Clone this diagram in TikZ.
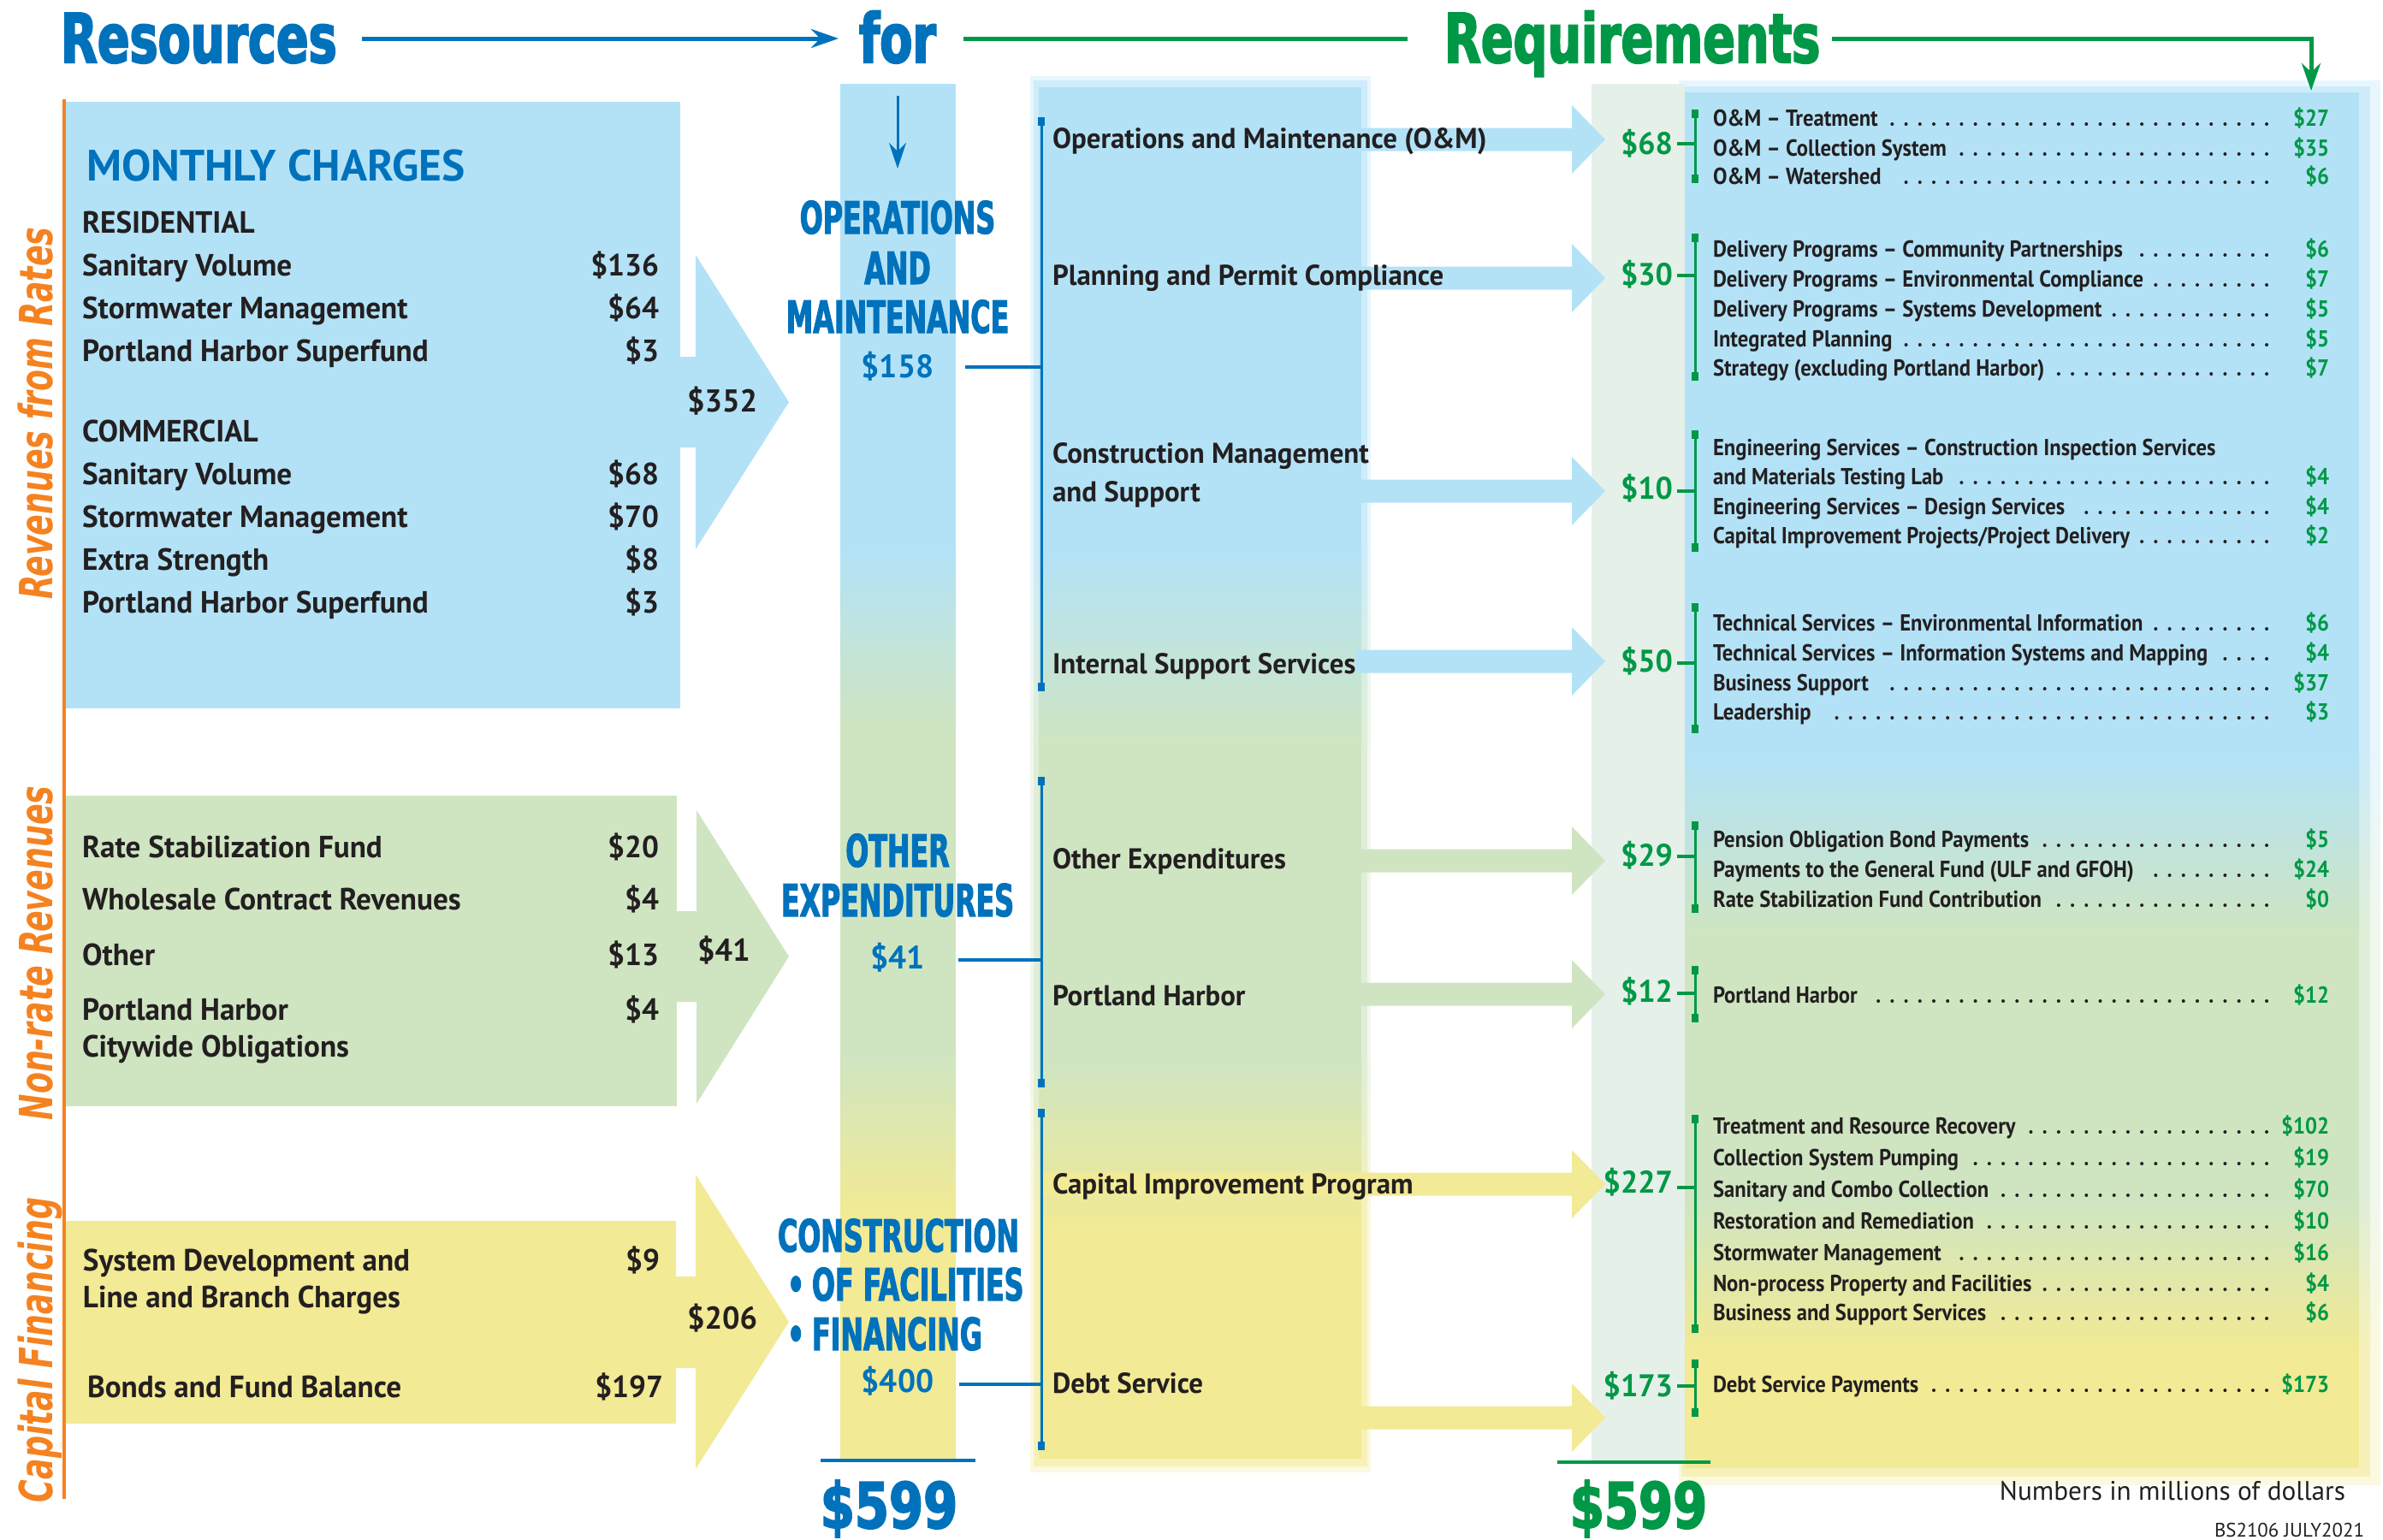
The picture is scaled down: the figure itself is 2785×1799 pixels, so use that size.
\documentclass[tikz,border=0pt]{standalone}
\usepackage{fontspec}
\usetikzlibrary{arrows.meta,calc}
\setmainfont{PT Sans}
\newfontfamily\bodyfont{PT Sans}[FakeStretch=0.98]
\newfontfamily\smallfont{PT Sans}[FakeStretch=0.91]
\newfontfamily\plainfont{PT Sans}
\newfontfamily\titlefont{DejaVu Sans}[FakeStretch=0.70,FakeBold=2.5]
\newfontfamily\capsfont{DejaVu Sans}[FakeStretch=0.61,FakeBold=2]
\newfontfamily\bigfont{DejaVu Sans}[FakeStretch=0.78,FakeBold=2.5]
\newfontfamily\sidefont{DejaVu Sans}[FakeStretch=0.68]
\definecolor{cblue}{RGB}{0,114,188}
\definecolor{cgreen}{RGB}{0,152,70}
\definecolor{corange}{RGB}{245,130,32}
\definecolor{pblue}{RGB}{179,226,247}
\definecolor{pgreen}{RGB}{207,229,194}
\definecolor{pyellow}{RGB}{242,234,148}
\definecolor{pcol}{RGB}{229,240,233}
\definecolor{ink}{RGB}{35,31,32}
\newcommand\gcol[8]{%
  \fill[\cA] (#1,#3) rectangle (#2,#4+1);
  \shade[top color=\cA,bottom color=\cB] (#1,#4) rectangle (#2,#5);
  \fill[\cB] (#1,#5-1) rectangle (#2,#6+1);
  \shade[top color=\cB,bottom color=\cC] (#1,#6) rectangle (#2,#7);
  \fill[\cC] (#1,#7-1) rectangle (#2,#8);}
\newcommand\setcols[1]{\def\cA{pblue!#1}\def\cB{pgreen!#1}\def\cC{pyellow!#1}}
\newcommand\brk[4]{%
  \draw[#4,line width=0.03cm] (#1,#2) -- (#1,#3);
  \fill[#4] (#1-4,#2) rectangle (#1+4,#2+10);
  \fill[#4] (#1-4,#3-10) rectangle (#1+4,#3);}
\newcommand\rarr[3]{%
  \fill[#2] (#3,#1-13.5) -- (1837,#1-13.5) -- (1837,#1-40) -- (1876,#1) -- (1837,#1+40) -- (1837,#1+13.5) -- (#3,#1+13.5) -- cycle;}
\newcommand\gtick[2]{\draw[cgreen,line width=0.04cm] (1960,#2) -- (1981,#2);}
\newcommand\ritem[4]{%
  \node[ritem] (#1) at (2002,#2) {#3};
  \node[rval] (#1v) at (2722,#2) {#4};
  \draw[ink,line width=0.04cm,line cap=round,dash pattern=on 0pt off 0.162cm] (2649,#2-2) -- ($(#1.base east)+(14,-2)$);}
\begin{document}
\begin{tikzpicture}[x=0.01cm,y=-0.01cm,
  every node/.style={inner sep=0pt,outer sep=0pt},
  ttl/.style={font=\titlefont\bfseries\fontsize{22.6}{26}\selectfont,anchor=base west},
  capsl/.style={font=\capsfont\bfseries\fontsize{14.8}{17}\selectfont,text=cblue,anchor=base},
  big/.style={font=\bigfont\bfseries\fontsize{21}{24}\selectfont,anchor=base},
  side/.style={font=\sidefont\bfseries\itshape\fontsize{15.2}{18}\selectfont,text=corange,rotate=90,anchor=base},
  hdr/.style={font=\plainfont\bfseries\fontsize{14.6}{17}\selectfont,text=cblue,anchor=base west},
  item/.style={font=\bodyfont\bfseries\fontsize{10.2}{12}\selectfont,text=ink,anchor=base west},
  val/.style={font=\bodyfont\bfseries\fontsize{10.2}{12}\selectfont,text=ink,anchor=base east},
  mitem/.style={font=\bodyfont\bfseries\fontsize{9.55}{11}\selectfont,text=ink,anchor=base west},
  sumv/.style={font=\bodyfont\bfseries\fontsize{10.5}{12}\selectfont,text=ink,anchor=base west},
  bamt/.style={font=\bodyfont\bfseries\fontsize{10.8}{13}\selectfont,text=cblue,anchor=base},
  ramt/.style={font=\bodyfont\bfseries\fontsize{10.4}{12}\selectfont,text=cgreen,anchor=base east},
  ritem/.style={font=\smallfont\bfseries\fontsize{7.7}{9}\selectfont,text=ink,anchor=base west},
  rval/.style={font=\smallfont\bfseries\fontsize{7.7}{9}\selectfont,text=cgreen,anchor=base east},
  note/.style={font=\plainfont\fontsize{8.9}{10}\selectfont,text=ink,anchor=base east}]
\useasboundingbox (0,0) rectangle (2785,1799);

% right panel
\setcols{30}\gcol{1962}{2782}{94}{880}{1090}{1400}{1580}{1736}
\setcols{65}\gcol{1965}{2770}{101}{880}{1090}{1400}{1580}{1726}
\setcols{100}\gcol{1968}{2757}{108}{880}{1090}{1400}{1580}{1716}
% pale column
\fill[pcol] (1860,98) rectangle (1969,1709);
% middle panel
\setcols{30}\gcol{1204}{1602}{89}{640}{870}{1240}{1440}{1721}
\setcols{65}\gcol{1208}{1598}{94}{640}{870}{1240}{1440}{1714}
\setcols{100}\gcol{1214}{1591}{102}{640}{870}{1240}{1440}{1705}
% bar
\setcols{100}\gcol{982}{1117}{98}{640}{850}{1230}{1420}{1709}

% left boxes
\fill[pblue] (77,119) rectangle (795,828);
\fill[pblue] (795,417) -- (813,417) -- (813,298) -- (922,470) -- (813,642) -- (813,523) -- (795,523) -- cycle;
\fill[pgreen] (77,930) rectangle (791,1293);
\fill[pgreen] (791,1065) -- (814,1065) -- (814,947) -- (922,1118) -- (814,1290) -- (814,1171) -- (791,1171) -- cycle;
\fill[pyellow] (77,1427) rectangle (790,1664);
\fill[pyellow] (790,1492) -- (813,1492) -- (813,1373) -- (922,1545) -- (813,1717) -- (813,1599) -- (790,1599) -- cycle;
\draw[corange,line width=0.045cm] (75,116) -- (75,1752);

% arrows middle -> right
\rarr{163}{pblue}{1585}
\rarr{325}{pblue}{1585}
\rarr{574}{pblue}{1585}
\rarr{773}{pblue}{1585}
\rarr{1006}{pgreen}{1585}
\rarr{1162}{pgreen}{1585}
\rarr{1384}{pyellow}{1215}
\rarr{1657}{pyellow}{1215}

% titles
\node[ttl,text=cblue] (tRes) at (71,73) {Resources};
\node[ttl,text=cblue] (tFor) at (1004,73) {for};
\node[ttl,text=cgreen] (tReq) at (1688,73) {Requirements};
\coordinate (aB1) at (423,45); \coordinate (aB2) at (980,45);
\draw[cblue,line width=0.05cm,-{Stealth[length=0.32cm,width=0.22cm]}] (aB1) -- (aB2);
\coordinate (g1) at (1126,45); \coordinate (g2) at (1645,45);
\draw[cgreen,line width=0.05cm] (g1) -- (g2);
\coordinate (g3) at (2141,45); \coordinate (g4) at (2701,45); \coordinate (g5) at (2701,106);
\draw[cgreen,line width=0.05cm,-{Stealth[length=0.32cm,width=0.22cm]}] (g3) -- (g4) -- (g5);

% side labels
\node[side] (sRates) at (61,483) {Revenues from Rates};
\node[side] (sNon) at (61,1114) {Non-rate Revenues};
\node[side] (sCap) at (61,1578) {Capital Financing};

% box 1 text
\node[hdr] (mc) at (101,211) {MONTHLY CHARGES};
\node[item] (res) at (96,272) {RESIDENTIAL};
\node[item] (r1) at (96,322) {Sanitary Volume}; \node[val] (r1v) at (770,322) {\$136};
\node[item] (r2) at (96,372) {Stormwater Management}; \node[val] (r2v) at (770,372) {\$64};
\node[item] (r3) at (96,422) {Portland Harbor Superfund}; \node[val] (r3v) at (770,422) {\$3};
\node[item] (com) at (96,516) {COMMERCIAL};
\node[item] (c1) at (96,566) {Sanitary Volume}; \node[val] (c1v) at (770,566) {\$68};
\node[item] (c2) at (96,616) {Stormwater Management}; \node[val] (c2v) at (770,616) {\$70};
\node[item] (c3) at (96,666) {Extra Strength}; \node[val] (c3v) at (770,666) {\$8};
\node[item] (c4) at (96,716) {Portland Harbor Superfund}; \node[val] (c4v) at (770,716) {\$3};
\node[sumv] (s1) at (803,481) {\$352};
% box 2 text
\node[item] (n1) at (96,1002) {Rate Stabilization Fund}; \node[val] (n1v) at (770,1002) {\$20};
\node[item] (n2) at (96,1063) {Wholesale Contract Revenues}; \node[val] (n2v) at (770,1063) {\$4};
\node[item] (n3) at (96,1128) {Other}; \node[val] (n3v) at (770,1128) {\$13};
\node[item] (n4) at (96,1192) {Portland Harbor}; \node[val] (n4v) at (770,1192) {\$4};
\node[item] (n5) at (96,1235) {Citywide Obligations};
\node[sumv] (s2) at (815,1123) {\$41};
% box 3 text
\node[item] (k1) at (97,1485) {System Development and}; \node[val] (k1v) at (771,1485) {\$9};
\node[item] (k2) at (97,1528) {Line and Branch Charges};
\node[item] (k3) at (102,1633) {Bonds and Fund Balance}; \node[val] (k3v) at (775,1633) {\$197};
\node[sumv] (s3) at (803,1553) {\$206};

% bar
\coordinate (dA) at (1049,112); \coordinate (dB) at (1049,197);
\draw[cblue,line width=0.03cm,-{Stealth[length=0.3cm,width=0.2cm]}] (dA) -- (dB);
\node[capsl] (h1) at (1049,273) {OPERATIONS};
\node[capsl] (h2) at (1049,332) {AND};
\node[capsl] (h3) at (1049,389) {MAINTENANCE};
\node[bamt] (b1) at (1049,441) {\$158};
\node[capsl] (h4) at (1049,1013) {OTHER};
\node[capsl] (h5) at (1049,1071) {EXPENDITURES};
\node[bamt] (b2) at (1049,1132) {\$41};
\node[capsl] (h6) at (1050,1463) {CONSTRUCTION};
\node[capsl,anchor=base west] (h7) at (920,1520) {\textbullet\,OF FACILITIES};
\node[capsl,anchor=base west] (h8) at (920,1578) {\textbullet\,FINANCING};
\node[bamt] (b3) at (1049,1627) {\$400};

% bar-to-bracket connectors
\coordinate (b1r) at (1128,429); \coordinate (m1) at (1217,429);
\coordinate (b2r) at (1120,1122); \coordinate (m2) at (1217,1122);
\coordinate (b3r) at (1121,1618); \coordinate (m3) at (1217,1618);
\draw[cblue,line width=0.045cm] (b1r) -- (m1);
\draw[cblue,line width=0.045cm] (b2r) -- (m2);
\draw[cblue,line width=0.045cm] (b3r) -- (m3);
\brk{1217}{137}{808}{cblue}
\brk{1217}{908}{1271}{cblue}
\brk{1217}{1296}{1695}{cblue}

% middle labels
\node[mitem] (L1) at (1230,173) {Operations and Maintenance (O\&M)};
\node[mitem] (L2) at (1230,333) {Planning and Permit Compliance};
\node[mitem] (L3) at (1230,541) {Construction Management};
\node[mitem] (L3b) at (1230,586) {and Support};
\node[mitem] (L4) at (1230,787) {Internal Support Services};
\node[mitem] (L5) at (1230,1015) {Other Expenditures};
\node[mitem] (L6) at (1230,1175) {Portland Harbor};
\node[mitem] (L7) at (1230,1395) {Capital Improvement Program};
\node[mitem] (L8) at (1230,1628) {Debt Service};

% right amounts and brackets
\node[ramt] (A1) at (1955,180) {\$68}; \gtick{A1}{168} \brk{1981}{128}{214}{cgreen}
\node[ramt] (A2) at (1955,333) {\$30}; \gtick{A2}{322} \brk{1981}{273}{445}{cgreen}
\node[ramt] (A3) at (1955,583) {\$10}; \gtick{A3}{574} \brk{1981}{503}{645}{cgreen}
\node[ramt] (A4) at (1955,785) {\$50}; \gtick{A4}{775} \brk{1981}{705}{857}{cgreen}
\node[ramt] (A5) at (1955,1012) {\$29}; \gtick{A5}{1001} \brk{1981}{960}{1067}{cgreen}
\node[ramt] (A6) at (1955,1171) {\$12}; \gtick{A6}{1161} \brk{1981}{1129}{1195}{cgreen}
\node[ramt] (A7) at (1955,1394) {\$227}; \gtick{A7}{1388} \brk{1981}{1303}{1558}{cgreen}
\node[ramt] (A8) at (1955,1632) {\$173}; \gtick{A8}{1620} \brk{1981}{1589}{1656}{cgreen}

% right items
\ritem{q1}{147}{O\&M – Treatment}{\$27}
\ritem{q2}{182}{O\&M – Collection System}{\$35}
\ritem{q3}{215}{O\&M – Watershed}{\$6}
\ritem{q4}{300}{Delivery Programs – Community Partnerships}{\$6}
\ritem{q5}{335}{Delivery Programs – Environmental Compliance}{\$7}
\ritem{q6}{370}{Delivery Programs – Systems Development}{\$5}
\ritem{q7}{405}{Integrated Planning}{\$5}
\ritem{q8}{439}{Strategy (excluding Portland Harbor)}{\$7}
\node[ritem] (q9) at (2002,532) {Engineering Services – Construction Inspection Services};
\ritem{q10}{566}{and Materials Testing Lab}{\$4}
\ritem{q11}{601}{Engineering Services – Design Services}{\$4}
\ritem{q12}{635}{Capital Improvement Projects/Project Delivery}{\$2}
\ritem{q13}{737}{Technical Services – Environmental Information}{\$6}
\ritem{q14}{772}{Technical Services – Information Systems and Mapping}{\$4}
\ritem{q15}{807}{Business Support}{\$37}
\ritem{q16}{841}{Leadership}{\$3}
\ritem{q17}{990}{Pension Obligation Bond Payments}{\$5}
\ritem{q18}{1025}{Payments to the General Fund (ULF and GFOH)}{\$24}
\ritem{q19}{1060}{Rate Stabilization Fund Contribution}{\$0}
\ritem{q20}{1172}{Portland Harbor}{\$12}
\ritem{q21}{1325}{Treatment and Resource Recovery}{\$102}
\ritem{q22}{1362}{Collection System Pumping}{\$19}
\ritem{q23}{1399}{Sanitary and Combo Collection}{\$70}
\ritem{q24}{1436}{Restoration and Remediation}{\$10}
\ritem{q25}{1473}{Stormwater Management}{\$16}
\ritem{q26}{1509}{Non-process Property and Facilities}{\$4}
\ritem{q27}{1543}{Business and Support Services}{\$6}
\ritem{q28}{1627}{Debt Service Payments}{\$173}

% totals
\coordinate (tl1) at (959,1707); \coordinate (tl2) at (1140,1707);
\draw[cblue,line width=0.04cm] (tl1) -- (tl2);
\coordinate (tg1) at (1820,1709); \coordinate (tg2) at (1999,1709);
\draw[cgreen,line width=0.04cm] (tg1) -- (tg2);
\node[big,text=cblue] (tot1) at (1039,1786) {\$599};
\node[big,text=cgreen] (tot2) at (1915,1786) {\$599};
\node[note] (nm) at (2741,1753) {Numbers in millions of dollars};
\node[note,font=\plainfont\fontsize{6.5}{8}\selectfont] (bs) at (2763,1796) {BS2106 JULY2021};
\end{tikzpicture}
\end{document}
